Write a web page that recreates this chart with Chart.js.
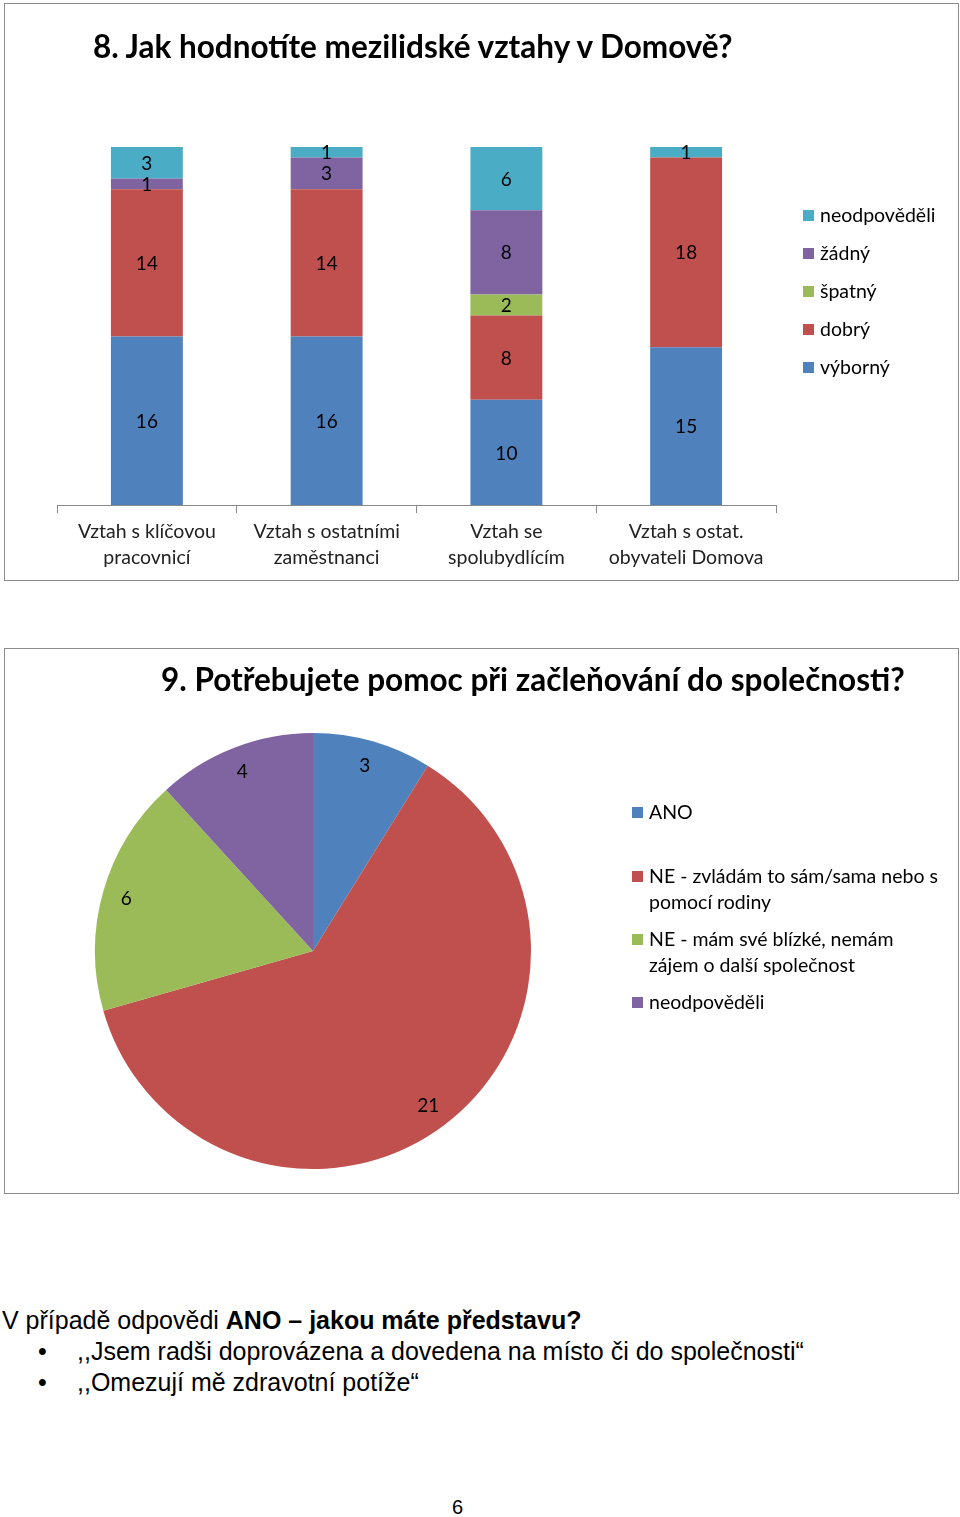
<!DOCTYPE html>
<html lang="cs">
<head>
<meta charset="utf-8">
<script src="https://cdn.jsdelivr.net/npm/chart.js@4.4.1/dist/chart.umd.min.js"></script>
<style>
  body { margin: 0; width: 960px; height: 1517px; position: relative; background: #fff; font-family: Lato, sans-serif; color: #000; }
  .box { position: absolute; border: 1px solid #8c8c8c; box-sizing: border-box; }
  #box1 { left: 4px; top: 3px; width: 955px; height: 578px; }
  #box2 { left: 4px; top: 648px; width: 955px; height: 546px; }
  .box canvas { position: absolute; left: 0; top: 0; }
  .title { position: absolute; font-weight: bold; white-space: nowrap; line-height: 1; }
  .legend { position: absolute; font-size: 19.5px; }
  .legend .item { position: relative; padding-left: 17px; line-height: 26px; white-space: nowrap; }
  .legend .item i { position: absolute; left: 0; top: 8px; width: 11px; height: 11px; }
  .text { position: absolute; font-family: "Liberation Sans", Arial, sans-serif; font-size: 25px; line-height: 31px; white-space: nowrap; }
</style>
</head>
<body>

<div id="box1" class="box">
  <canvas id="barChart" width="953" height="576"></canvas>
  <div class="title" style="left:88px; top:27px; font-size:31.5px;">8. Jak hodnotíte mezilidské vztahy v Domově?</div>
  <div id="barLegend" class="legend" style="left:798px; top:198px;"></div>
</div>

<div id="box2" class="box">
  <canvas id="pieChart" width="953" height="544"></canvas>
  <div class="title" style="left:156px; top:15px; font-size:31.5px;">9. Potřebujete pomoc při začleňování do společnosti?</div>
  <div id="pieLegend" class="legend" style="left:627px; top:150px;"></div>
</div>

<div class="text" style="left:2px; top:1305px;">V případě odpovědi <b>ANO – jakou máte představu?</b></div>
<div class="text" style="left:38px; top:1336px;">•</div>
<div class="text" style="left:77px; top:1336px;">,,Jsem radši doprovázena a dovedena na místo či do společnosti“</div>
<div class="text" style="left:38px; top:1367px;">•</div>
<div class="text" style="left:77px; top:1367px;">,,Omezují mě zdravotní potíže“</div>
<div class="text" style="left:452px; top:1492px; font-size:20px;">6</div>

<script>
// Graf 8 - mezilidské vztahy
const vztahy = [
  ['Vztah s klíčovou', 'pracovnicí'],
  ['Vztah s ostatními', 'zaměstnanci'],
  ['Vztah se', 'spolubydlícím'],
  ['Vztah s ostat.', 'obyvateli Domova']
];
const vyborny = [16, 16, 10, 15];
const dobry = [14, 14, 8, 18];
const spatny = [0, 0, 2, 0];
const zadny = [1, 3, 8, 0];
const neodpovedeli = [3, 1, 6, 1];

// Graf 9 - pomoc při začleňování
const odpovedi = [
  'ANO',
  ['NE - zvládám to sám/sama nebo s', 'pomocí rodiny'],
  ['NE - mám své blízké, nemám', 'zájem o další společnost'],
  'neodpověděli'
];
const pocty = [3, 21, 6, 4];

const BLUE = '#4f81bd', RED = '#c0504d', GREEN = '#9bbb59', PURPLE = '#8064a2', CYAN = '#4bacc6';

// popisky hodnot uvnitř sloupců / výsečí
const valueLabels = {
  id: 'valueLabels',
  afterDatasetsDraw(chart) {
    const ctx = chart.ctx;
    ctx.save();
    ctx.font = '19px Lato';
    ctx.fillStyle = '#000';
    ctx.textAlign = 'center';
    ctx.textBaseline = 'middle';
    chart.data.datasets.forEach((ds, i) => {
      chart.getDatasetMeta(i).data.forEach((el, j) => {
        const v = ds.data[j];
        if (!v) return;
        if (chart.config.type === 'bar') {
          ctx.fillText(v, el.x, (el.y + el.base) / 2 + 1);
        } else {
          const p = el.getProps(['x', 'y', 'startAngle', 'endAngle', 'outerRadius']);
          const a = (p.startAngle + p.endAngle) / 2;
          const r = p.outerRadius - 25;
          ctx.fillText(v, p.x + Math.cos(a) * r - 1, p.y + Math.sin(a) * r + 1);
        }
      });
    });
    ctx.restore();
  }
};

Chart.defaults.font.family = 'Lato';
Chart.defaults.animation = false;

const barChart = new Chart(document.getElementById('barChart'), {
  type: 'bar',
  data: {
    labels: vztahy,
    datasets: [
      { label: 'výborný', data: vyborny, backgroundColor: BLUE },
      { label: 'dobrý', data: dobry, backgroundColor: RED },
      { label: 'špatný', data: spatny, backgroundColor: GREEN },
      { label: 'žádný', data: zadny, backgroundColor: PURPLE },
      { label: 'neodpověděli', data: neodpovedeli, backgroundColor: CYAN }
    ]
  },
  options: {
    responsive: false,
    layout: { padding: { left: 52, right: 182, top: 143, bottom: 3 } },
    datasets: { bar: { barPercentage: 0.8, categoryPercentage: 0.5 } },
    plugins: { legend: { display: false }, tooltip: { enabled: false } },
    scales: {
      x: {
        stacked: true,
        grid: { drawOnChartArea: false, tickLength: 8, color: '#898989' },
        border: { color: '#898989' },
        ticks: { color: '#222', font: { size: 19.5, lineHeight: 1.33 }, padding: 6, maxRotation: 0, autoSkip: false }
      },
      y: { stacked: true, display: false, min: 0, max: 34 }
    }
  },
  plugins: [valueLabels]
});

const pieChart = new Chart(document.getElementById('pieChart'), {
  type: 'pie',
  data: {
    labels: odpovedi,
    datasets: [{ data: pocty, backgroundColor: [BLUE, RED, GREEN, PURPLE], borderWidth: 0 }]
  },
  options: {
    responsive: false,
    layout: { padding: { left: 90, right: 427, top: 84, bottom: 24 } },
    plugins: { legend: { display: false }, tooltip: { enabled: false } }
  },
  plugins: [valueLabels]
});

// HTML legendy z dat grafů
function buildLegend(el, names, colors, gaps) {
  names.forEach((n, i) => {
    const d = document.createElement('div');
    d.className = 'item';
    d.style.marginBottom = (gaps ? gaps[i] : 12) + 'px';
    d.innerHTML = '<i style="background:' + colors[i] + '"></i>' + [].concat(n).join('<br>');
    el.appendChild(d);
  });
}
const barSets = barChart.data.datasets.slice().reverse();
buildLegend(document.getElementById('barLegend'), barSets.map(d => d.label), barSets.map(d => d.backgroundColor));
buildLegend(document.getElementById('pieLegend'), pieChart.data.labels, pieChart.data.datasets[0].backgroundColor, [38, 11, 11, 0]);
</script>
</body>
</html>
